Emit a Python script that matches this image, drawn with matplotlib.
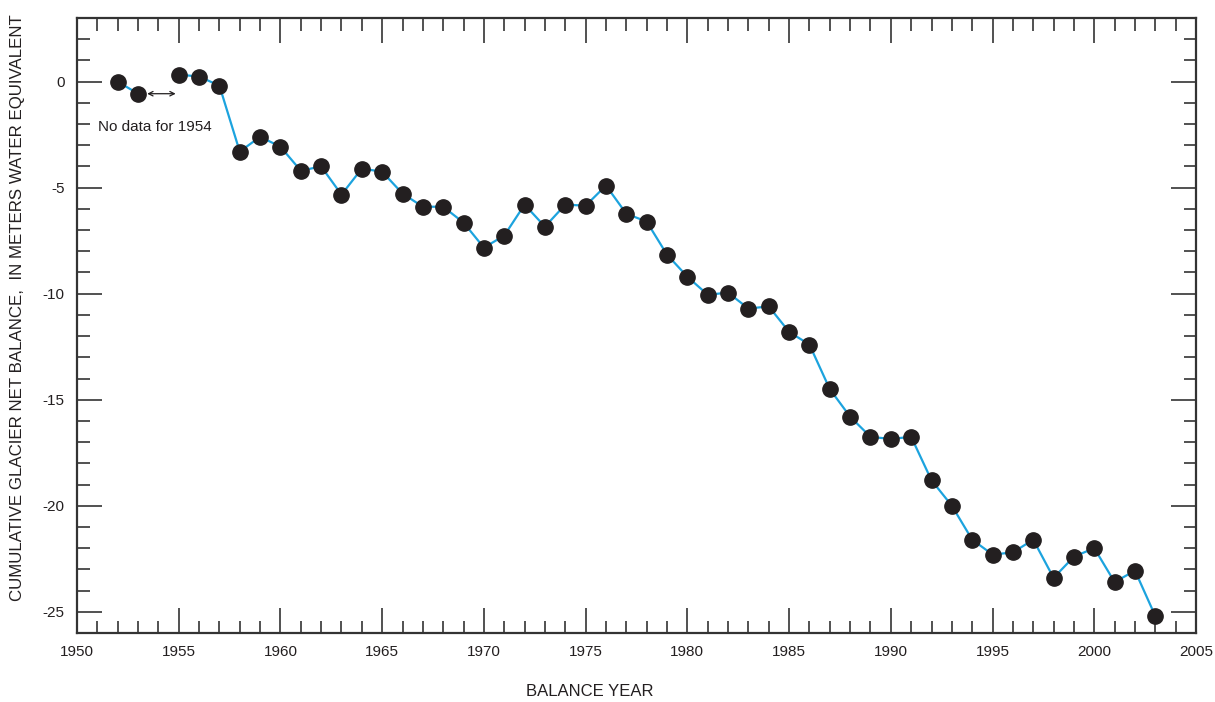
import numpy as np
import matplotlib
matplotlib.use("Agg")
from matplotlib import pyplot as plt
from matplotlib.ticker import MultipleLocator

plt.rcParams['font.family'] = ['Liberation Sans', 'DejaVu Sans']
plt.rcParams['axes.unicode_minus'] = False

years_a = [1952, 1953]
bal_a = [0.0, -0.57]
years_b = [1955, 1956, 1957, 1958, 1959, 1960, 1961, 1962, 1963, 1964,
           1965, 1966, 1967, 1968, 1969, 1970, 1971, 1972, 1973, 1974,
           1975, 1976, 1977, 1978, 1979, 1980, 1981, 1982, 1983, 1984,
           1985, 1986, 1987, 1988, 1989, 1990, 1991, 1992, 1993, 1994,
           1995, 1996, 1997, 1998, 1999, 2000, 2001, 2002, 2003]
bal_b = [0.33, 0.24, -0.19, -3.3, -2.6, -3.07, -4.2, -4.0, -5.33, -4.1,
         -4.25, -5.28, -5.9, -5.9, -6.65, -7.83, -7.26, -5.8, -6.84, -5.8,
         -5.85, -4.9, -6.23, -6.6, -8.16, -9.2, -10.05, -9.95, -10.7, -10.6,
         -11.8, -12.4, -14.5, -15.8, -16.75, -16.85, -16.75, -18.8, -20.0, -21.6,
         -22.3, -22.2, -21.6, -23.4, -22.4, -22.0, -23.6, -23.06, -25.2]

fig = plt.figure(figsize=(12.15, 7.02), dpi=100)
ax = fig.add_axes([77/1215, 1-633/702, (1196-77)/1215, (633-18)/702])

blue = '#1ca3de'
dark = '#231f20'
for xs, ys in [(years_a, bal_a), (years_b, bal_b)]:
    ax.plot(xs, ys, color=blue, lw=1.6, zorder=2)
    ax.plot(xs, ys, 'o', color=dark, ms=11, zorder=3)

ax.annotate('', xy=(1953.45, -0.57), xytext=(1954.85, -0.57),
            arrowprops=dict(arrowstyle='<->', color=dark, lw=0.9,
                            shrinkA=0, shrinkB=0, mutation_scale=8))
ax.text(1951.03, -2.12, 'No data for 1954', fontsize=11, color=dark,
        ha='left', va='center')

ax.set_xlim(1950, 2005)
ax.set_ylim(-26, 3)
ax.xaxis.set_major_locator(MultipleLocator(5))
ax.xaxis.set_minor_locator(MultipleLocator(1))
ax.yaxis.set_major_locator(MultipleLocator(5))
ax.yaxis.set_minor_locator(MultipleLocator(1))
ax.tick_params(which='both', direction='in', top=True, right=True,
               color='#333333', width=1.2, labelsize=11, labelcolor=dark)
ax.tick_params(which='major', length=18, pad=9)
ax.tick_params(which='minor', length=9)
for s in ax.spines.values():
    s.set_color('#333333')
    s.set_linewidth(1.6)

fig.text(590/1215, 1-692/702, 'BALANCE YEAR', fontsize=12, color=dark,
         ha='center', va='center')
fig.text(18/1215, 1-308/702,
         'CUMULATIVE GLACIER NET BALANCE,  IN METERS WATER EQUIVALENT',
         fontsize=12.2, color=dark, rotation=90, ha='center', va='center')

fig.savefig('out.png', dpi=100)
